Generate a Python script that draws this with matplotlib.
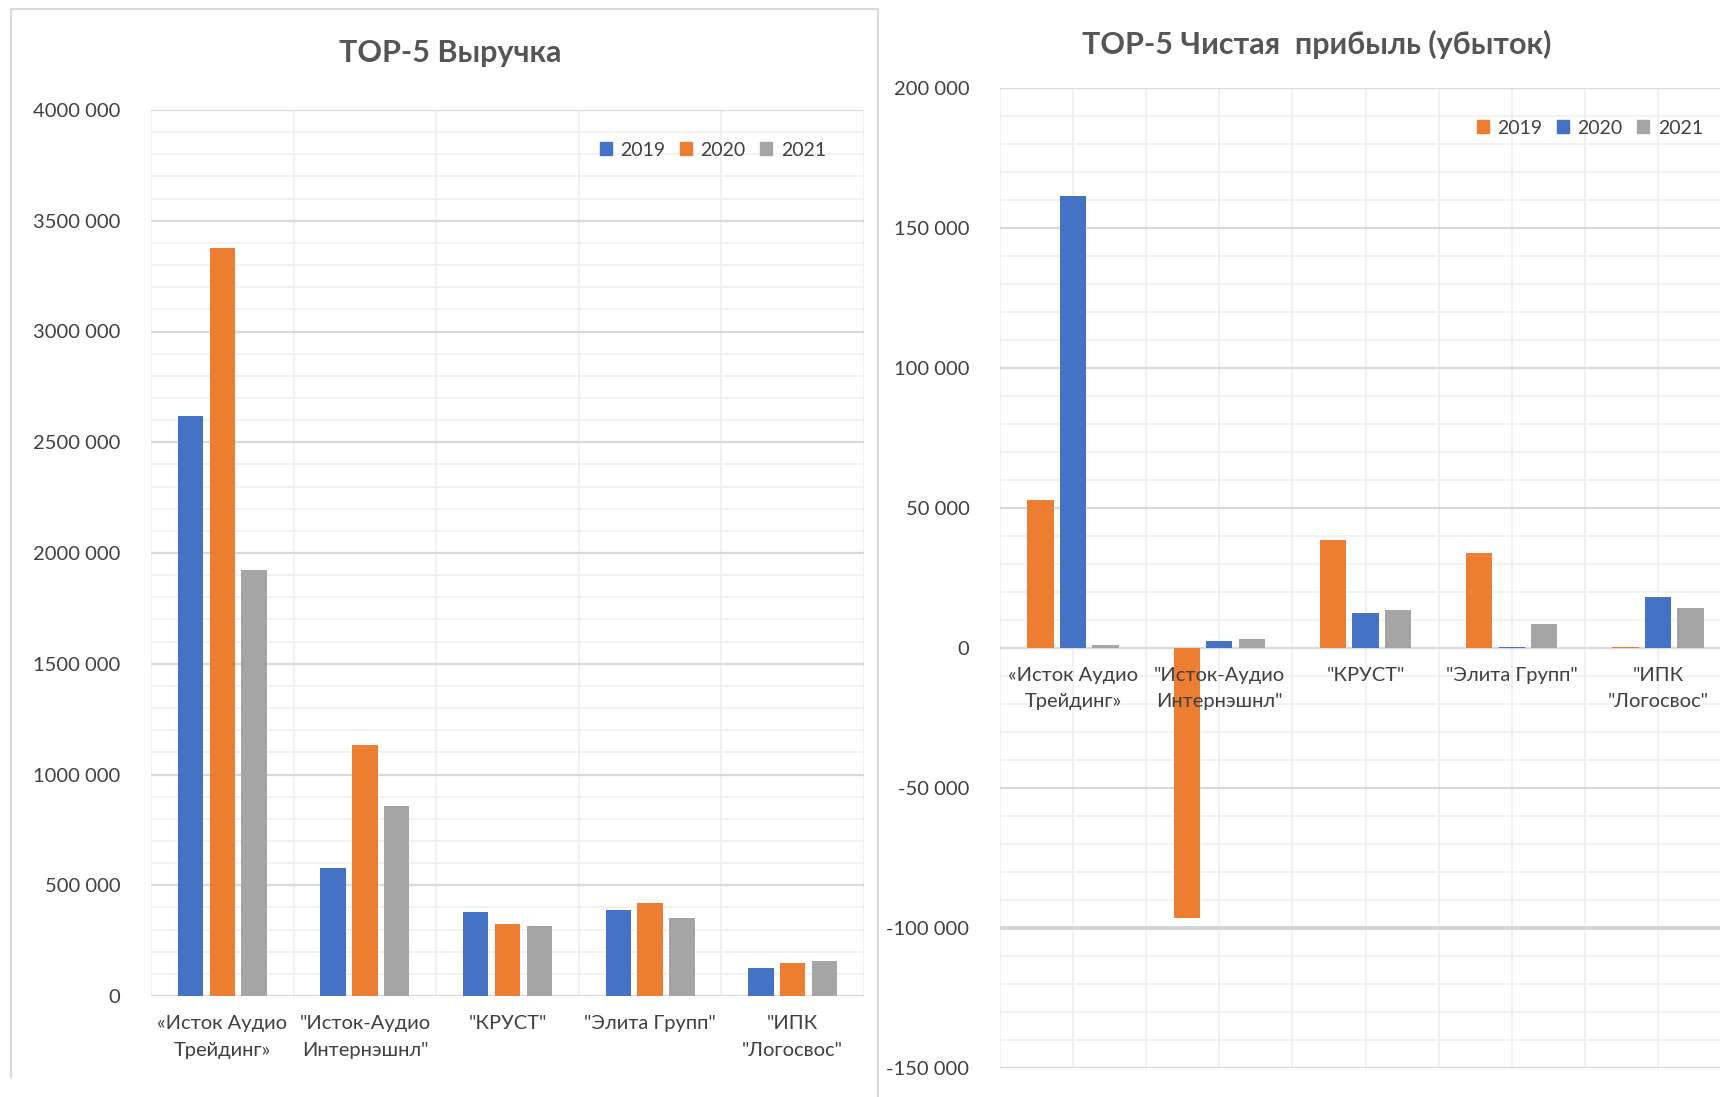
import matplotlib.pyplot as plt
from matplotlib.patches import Patch
from matplotlib.lines import Line2D
from matplotlib.ticker import MultipleLocator, FixedLocator

plt.rcParams['font.family'] = ['Lato', 'DejaVu Sans']

# --- data ---
companies = ['«Исток Аудио\nТрейдинг»', '"Исток-Аудио\nИнтернэшнл"', '"КРУСТ"',
             '"Элита Групп"', '"ИПК\n"Логосвос"']
years = ['2019', '2020', '2021']

revenue_2019 = [2620000, 578000, 380000, 390000, 125000]
revenue_2020 = [3375000, 1135000, 323000, 422000, 150000]
revenue_2021 = [1925000, 860000, 316000, 350000, 159000]

profit_2019 = [53000, -96600, 38700, 34000, 500]
profit_2020 = [161600, 2600, 12400, 500, 18200]
profit_2021 = [1200, 3300, 13700, 8400, 14300]

rev_ticks = [0, 500000, 1000000, 1500000, 2000000, 2500000, 3000000, 3500000, 4000000]
rev_tick_labels = ['0', '500 000', '1000 000', '1500 000', '2000 000', '2500 000',
                   '3000 000', '3500 000', '4000 000']
prof_ticks = [-150000, -100000, -50000, 0, 50000, 100000, 150000, 200000]
prof_tick_labels = ['-150 000', '-100 000', '-50 000', '0', '50 000', '100 000',
                    '150 000', '200 000']

BLUE = '#4472c4'
ORANGE = '#ed7d31'
GRAY = '#a5a5a5'
TXT = '#404040'
W, H = 1720, 1097

fig = plt.figure(figsize=(W / 100, H / 100), dpi=100)


def setup_axes(ax, ymin, ymax, minor, ticks, labels):
    ax.set_xlim(-0.5, 4.5)
    ax.set_ylim(ymin, ymax)
    for s in ax.spines.values():
        s.set_visible(False)
    ax.set_axisbelow(True)
    ax.yaxis.set_major_locator(FixedLocator(ticks))
    ax.set_yticklabels(labels)
    ax.yaxis.set_minor_locator(MultipleLocator(minor))
    ax.xaxis.set_minor_locator(MultipleLocator(0.5))
    ax.grid(axis='y', which='major', color='#d9d9d9', lw=1.6)
    ax.grid(axis='y', which='minor', color='#f0f0f0', lw=1.2)
    ax.grid(axis='x', which='minor', color='#efefef', lw=1.2)
    ax.tick_params(which='both', length=0)
    ax.tick_params(axis='y', labelsize=14.5, labelcolor=TXT, pad=22)


def bars(ax, series, colors, width=0.178, step=0.223):
    x = range(len(companies))
    for k, (vals, c) in enumerate(zip(series, colors)):
        ax.bar([i + (k - 1) * step for i in x], vals, width=width, color=c, zorder=2)


def legend(colors, xc, yc):
    fig.legend(handles=[Patch(color=c, label=y) for c, y in zip(colors, years)],
               loc='center', bbox_to_anchor=(xc / W, 1 - yc / H), ncol=3, frameon=False,
               fontsize=14, labelcolor=TXT, handlelength=0.6, handleheight=0.6,
               handletextpad=0.45, columnspacing=0.75)


# --- left chart: revenue ---
ax1 = fig.add_axes([151 / W, 1 - 996 / H, 713 / W, 886 / H])
setup_axes(ax1, 0, 4000000, 100000, rev_ticks, rev_tick_labels)
bars(ax1, [revenue_2019, revenue_2020, revenue_2021], [BLUE, ORANGE, GRAY])
ax1.set_xticks(range(len(companies)))
ax1.set_xticklabels(companies, fontsize=14.5, color=TXT, linespacing=1.7)
ax1.tick_params(axis='x', pad=14)
fig.text(450 / W, 1 - 53 / H, 'TOP-5 Выручка', ha='center', va='center',
         fontsize=22, fontweight='bold', color='#555555')
legend([BLUE, ORANGE, GRAY], 713, 150)

# --- right chart: net profit ---
ax2 = fig.add_axes([1000 / W, 1 - 1068 / H, 731 / W, 980 / H])
setup_axes(ax2, -150000, 200000, 10000, prof_ticks, prof_tick_labels)
ax2.axhline(-100000, color='#d4d4d4', lw=2.8, zorder=0.6)
bars(ax2, [profit_2019, profit_2020, profit_2021], [ORANGE, BLUE, GRAY], width=0.18, step=0.222)
ax2.set_xticks([])
for i, name in enumerate(companies):
    ax2.annotate(name, (i, 0), xytext=(0, -14), textcoords='offset points',
                 ha='center', va='top', fontsize=14.5, color=TXT, linespacing=1.6, zorder=5)
fig.text(1317 / W, 1 - 44 / H, 'TOP-5 Чистая  прибыль (убыток)', ha='center', va='center',
         fontsize=22, fontweight='bold', color='#555555')
legend([ORANGE, BLUE, GRAY], 1590, 128)

# frame of the left chart
for xs, ys in [([11, 11], [9, 1077]), ([11, 878], [9, 9]), ([878, 878], [9, 1097])]:
    fig.add_artist(Line2D([x / W for x in xs], [1 - y / H for y in ys],
                          color='#d9d9d9', lw=1.5))

fig.savefig('out.png', dpi=100, facecolor='white')
